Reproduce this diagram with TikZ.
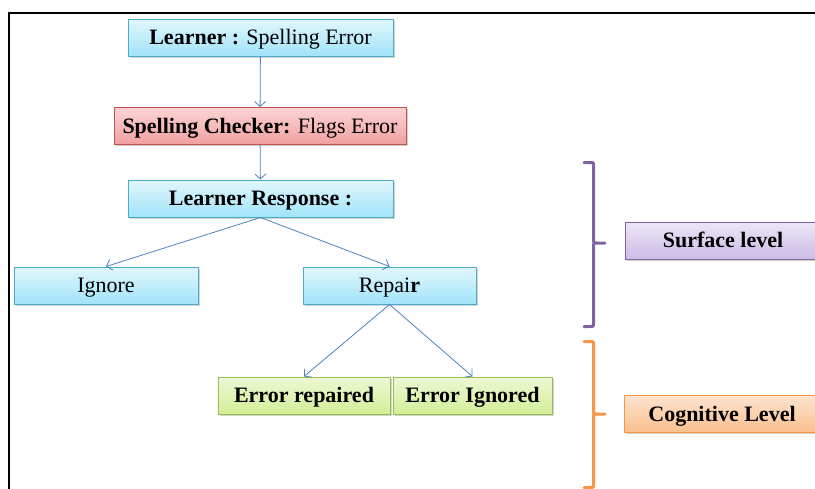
\documentclass[tikz,border=0pt]{standalone}
\usepackage{fontspec}
\setmainfont{Liberation Serif}
\usetikzlibrary{arrows.meta,shadows,positioning}

\definecolor{bluLine}{RGB}{75,172,198}
\definecolor{bluTop}{RGB}{226,246,253}
\definecolor{bluBot}{RGB}{160,228,250}
\definecolor{redLine}{RGB}{192,80,77}
\definecolor{redTop}{RGB}{252,212,212}
\definecolor{redBot}{RGB}{240,160,160}
\definecolor{grnLine}{RGB}{155,187,89}
\definecolor{grnTop}{RGB}{238,248,214}
\definecolor{grnBot}{RGB}{210,238,150}
\definecolor{purLine}{RGB}{128,100,162}
\definecolor{purTop}{RGB}{236,230,246}
\definecolor{purBot}{RGB}{204,188,232}
\definecolor{orgLine}{RGB}{247,150,70}
\definecolor{orgTop}{RGB}{253,228,208}
\definecolor{orgBot}{RGB}{250,190,140}
\definecolor{arrCol}{RGB}{79,129,189}

\tikzset{
  box/.style={draw, line width=1pt, minimum height=37pt, inner sep=0pt,
    text height=16pt, text depth=2pt,
    drop shadow={shadow xshift=1.5pt, shadow yshift=-1.5pt, opacity=0.35}},
  blubox/.style={box, draw=bluLine, top color=bluTop, bottom color=bluBot},
  redbox/.style={box, draw=redLine, top color=redTop, bottom color=redBot},
  grnbox/.style={box, draw=grnLine, top color=grnTop, bottom color=grnBot},
  purbox/.style={box, draw=purLine, top color=purTop, bottom color=purBot},
  orgbox/.style={box, draw=orgLine, top color=orgTop, bottom color=orgBot},
  arr/.style={draw=arrCol, line width=0.8pt, -{Straight Barb[length=5pt,width=11pt]}},
}

\begin{document}
\begin{tikzpicture}[x=1pt,y=-1pt,font=\fontsize{22}{26}\selectfont]

		\useasboundingbox (0,0) rectangle (815,488);

		% frame
		\draw [line width=2pt] (9,500) -- (9,13) -- (830,13);

		% flow
		\node [blubox, minimum width=265] (lrn) at (260.5,37.5) {\textbf{Learner :} Spelling Error};
		\node [redbox, minimum width=292] (chk) at (260,126) {\textbf{Spelling Checker:} Flags Error};
		\node [blubox, minimum width=265] (rsp) at (260.5,198.5) {\textbf{Learner Response :}};
		\node [blubox, minimum width=184] (ign) at (106,285.5) {Ignore};
		\node [blubox, minimum width=173] (rep) at (389.5,285.5) {Repai\textbf{r}};
		\node [grnbox, minimum width=172] (erp) at (304,395.5) {\textbf{Error repaired}};
		\node [grnbox, minimum width=159] (eig) at (472.5,395.5) {\textbf{Error Ignored}};

		\draw [arr] (lrn) -- (chk);
		\draw [arr] (chk) -- (rsp);
		\draw [arr] (rsp.south) -- (ign.north);
		\draw [arr] (rsp.south) -- (rep.north);
		\draw [arr] (rep.south) -- (erp.north);
		\draw [arr] (rep.south) -- (eig.north);

		% levels
		\node [purbox, minimum width=196] (sfc) at (723,240.5) {\textbf{Surface level}};
		\node [orgbox, minimum width=196] (cog) at (722,414) {\textbf{Cognitive Level}};

		\draw [purLine, line width=3pt, line cap=round]
			(584,162.5) -- (590,162.5) .. controls (593.5,162.5) .. (593.5,166)
			-- (593.5,239) .. controls (593.5,243) .. (597,243) -- (605,243)
			(597,243) .. controls (593.5,243) .. (593.5,247)
			-- (593.5,323) .. controls (593.5,326.5) .. (590,326.5) -- (584,326.5);
		\draw [orgLine, line width=3pt, line cap=round]
			(584,341.5) -- (590,341.5) .. controls (593.5,341.5) .. (593.5,345)
			-- (593.5,410) .. controls (593.5,414) .. (597,414) -- (605,414)
			(597,414) .. controls (593.5,414) .. (593.5,418)
			-- (593.5,484) .. controls (593.5,487.5) .. (590,487.5) -- (584,487.5);

\end{tikzpicture}
\end{document}
